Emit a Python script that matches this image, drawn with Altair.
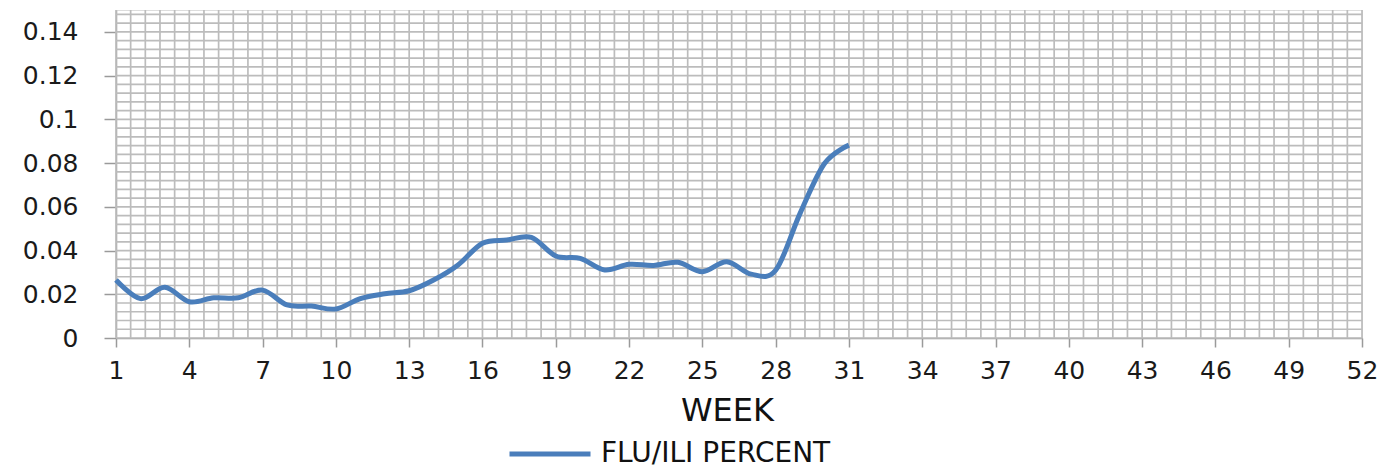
import altair as alt
import pandas as pd
import numpy as np

weeks = list(range(1, 32))
flu_ili = [0.0265, 0.0180, 0.0232, 0.0166, 0.0184, 0.0184, 0.0219, 0.0151, 0.0146, 0.0133,
           0.0180, 0.0202, 0.0216, 0.0265, 0.0334, 0.0433, 0.0448, 0.0460, 0.0375, 0.0364,
           0.0311, 0.0337, 0.0332, 0.0346, 0.0303, 0.0349, 0.0292, 0.0310, 0.0570, 0.0798,
           0.0882]
series_name = "FLU/ILI PERCENT"
x_ticks = list(range(1, 53, 3))
y_ticks = [0, 0.02, 0.04, 0.06, 0.08, 0.1, 0.12, 0.14]

df = pd.DataFrame({"week": weeks, "value": flu_ili, "series": series_name})

grid_x = pd.DataFrame({"week": np.round(np.arange(1, 52.001, 0.6), 4)})
grid_y = pd.DataFrame({"value": np.round(np.arange(0, 0.1481, 0.004), 4)})

FONT = "DejaVu Sans"
GRID = "#bcbcbc"

xscale = alt.Scale(domain=[1, 52], nice=False, zero=False)
yscale = alt.Scale(domain=[0, 0.15], nice=False)

xaxis = alt.Axis(values=x_ticks, title="WEEK", grid=False,
                 labelFont=FONT, labelFontSize=25, labelColor="#1a1a1a",
                 labelPadding=11, tickSize=9, tickColor="#9a9a9a",
                 domainColor="#9a9a9a", domainWidth=1.5, tickWidth=1.5,
                 titleFont=FONT, titleFontSize=32, titleFontWeight="normal",
                 titleColor="#111111", titlePadding=12, titleX=611,
                 labelFlush=False)
yaxis = alt.Axis(values=y_ticks, title=None, grid=False, format="~g",
                 labelFont=FONT, labelFontSize=25, labelColor="#1a1a1a",
                 labelPadding=26, tickSize=12, tickColor="#9a9a9a",
                 domainColor="#9a9a9a", domainWidth=1.5, tickWidth=1.5,
                 labelFlush=False)

vgrid = alt.Chart(grid_x).mark_rule(color=GRID, strokeWidth=1.7).encode(
    x=alt.X("week:Q", scale=xscale, axis=xaxis)
)
hgrid = alt.Chart(grid_y).mark_rule(color=GRID, strokeWidth=1.7).encode(
    y=alt.Y("value:Q", scale=yscale, axis=yaxis)
)

line = alt.Chart(df).mark_line(strokeWidth=5, interpolate="cardinal").encode(
    x=alt.X("week:Q", scale=xscale, axis=xaxis),
    y=alt.Y("value:Q", scale=yscale, axis=yaxis),
    color=alt.Color("series:N", scale=alt.Scale(range=["#4a7ebb"]),
                    legend=alt.Legend(title=None, orient="none", legendX=391, legendY=401,
                                      symbolType="stroke", symbolSize=6561,
                                      symbolStrokeWidth=5, labelFont=FONT,
                                      labelFontSize=28, labelColor="#111111",
                                      labelOffset=8, labelLimit=0)),
)

chart = alt.layer(vgrid, hgrid, line).properties(
    width=1246, height=328,
    autosize=alt.AutoSizeParams(type="none"),
    padding={"left": 108, "top": 2, "right": 27, "bottom": 127},
).configure_view(stroke=None).configure(background="white")

chart.save("out.html", embed_options={"renderer": "svg", "actions": False})
